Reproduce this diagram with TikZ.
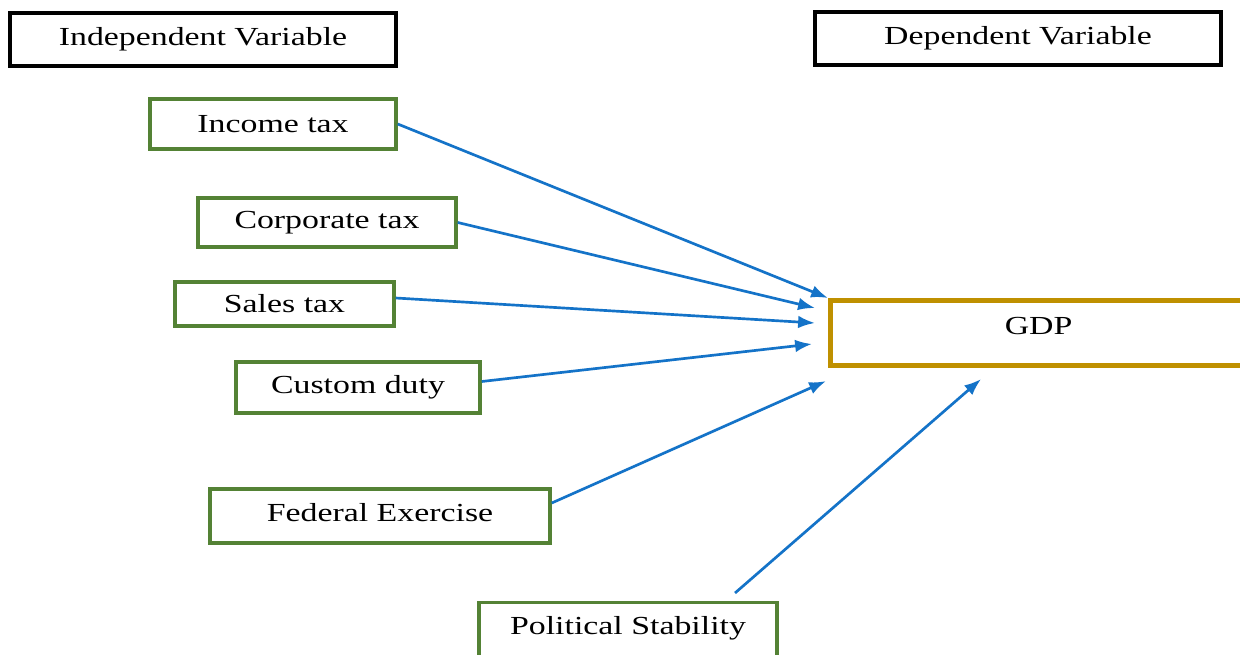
\documentclass[tikz,border=0pt]{standalone}
\usepackage{fontspec}
\setmainfont{Liberation Serif}
\usepackage{graphicx}
\usepackage{tikz}
\usetikzlibrary{arrows.meta}

\definecolor{boxgreen}{RGB}{84,130,53}
\definecolor{boxgold}{RGB}{191,144,0}
\definecolor{linkblue}{RGB}{20,115,200}

\newcommand{\wtext}[1]{\scalebox{1.3}[1]{#1}}

\tikzset{
    headbox/.style={draw=black, line width=2.4pt, fill=white, inner sep=0pt,
        font=\fontsize{18.5}{22}\selectfont},
    varbox/.style={draw=boxgreen, line width=2.4pt, fill=white, inner sep=0pt,
        font=\fontsize{18.5}{22}\selectfont},
    gdpbox/.style={draw=boxgold, line width=3.6pt, fill=white, inner sep=0pt,
        font=\fontsize{18.5}{22}\selectfont},
    link/.style={draw=linkblue, line width=1.9pt, -{Latex[length=12pt,width=9pt]}}
}

\begin{document}
\begin{tikzpicture}[x=0.025cm, y=-0.025cm]
    % Canvas of the picture
    \clip (0,0) rectangle (1240,655);
    \fill[white] (0,0) rectangle (1240,655);

    % Headings
    \node[headbox, minimum width=9.65cm, minimum height=1.325cm] (indep) at (203,39.5) {\wtext{Independent Variable}};
    \node[headbox, minimum width=10.15cm, minimum height=1.325cm] (dep) at (1018,38.5) {\wtext{Dependent Variable}};

    % Independent variables
    \node[varbox, minimum width=6.15cm, minimum height=1.25cm] (income) at (273,124) {\wtext{Income tax}};
    \node[varbox, minimum width=6.45cm, minimum height=1.225cm] (corp) at (327,222.5) {\wtext{Corporate tax}};
    \node[varbox, minimum width=5.475cm, minimum height=1.1cm] (sales) at (284.5,304) {\wtext{Sales tax}};
    \node[varbox, minimum width=6.1cm, minimum height=1.275cm] (custom) at (358,387.5) {\wtext{Custom duty}};
    \node[varbox, minimum width=8.5cm, minimum height=1.35cm, text height=0.5cm, text depth=0.25cm] (federal) at (380,516) {\wtext{Federal Exercise}};
    \node[varbox, anchor=north, minimum width=7.45cm, text height=0.8cm, text depth=1cm] (political) at (628,601) {\wtext{Political Stability}};

    % Dependent variable
    \node[gdpbox, anchor=north west, minimum width=10.4cm, text height=0.85cm, text depth=0.775cm] (gdp) at (828,298) {\wtext{GDP}};

    % Arrows into GDP
    \draw[link] (income.east) -- (gdp.north west);
    \draw[link] (corp.east) -- ([xshift=-0.325cm, yshift=-0.25cm]gdp.north west);
    \draw[link] ([yshift=0.15cm]sales.east) -- ([xshift=-0.325cm, yshift=-0.625cm]gdp.north west);
    \draw[link] ([yshift=0.15cm]custom.east) -- ([xshift=-0.4cm, yshift=-1.15cm]gdp.north west);
    \draw[link] ([yshift=0.325cm]federal.east) -- ([xshift=-0.05cm, yshift=-0.325cm]gdp.south west);
    \draw[link] ([xshift=2.675cm, yshift=0.2cm]political.north) -- ([xshift=3.825cm, yshift=-0.275cm]gdp.south west);
\end{tikzpicture}
\end{document}
